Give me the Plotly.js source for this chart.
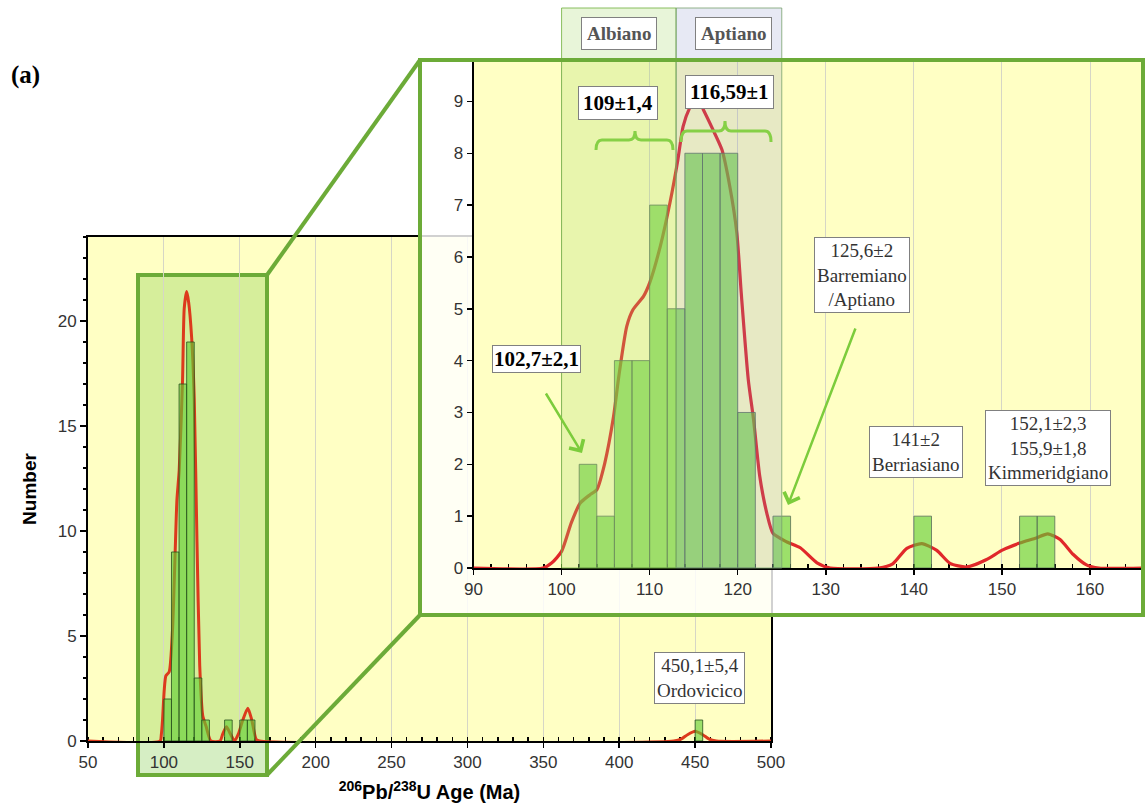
<!DOCTYPE html>
<html><head><meta charset="utf-8">
<script src="https://cdn.plot.ly/plotly-3.0.1.min.js"></script>
<style>html,body{margin:0;padding:0;background:#fff}#chart{width:1145px;height:810px}</style>
</head><body><div id="chart"></div>
<script>
// ---------------- data ----------------
const mainBinStart = [100,105,110,115,120,125,140,150,155,450];
const mainCounts   = [2,9,17,19,3,1,1,1,1,1];
const mainBinWidth = 5;
const mainKdeAge = [50,97.5,98.3,99.1,100.2,101.3,103.5,105.7,107.3,108.6,110.1,112.3,113.4,115.0,116.3,118.3,120.0,121.8,123.6,125.6,127.8,131,137,138.8,141.2,143.8,146.5,149.1,152,155.3,157.9,160.8,163,436,441,445,450,455,459,464,500];
const mainKdeNum = [0,0,0.3,1.0,2.4,3.1,3.3,5.3,8.7,11.5,12.9,17.2,20.6,21.4,20.9,19.2,16.3,9.5,3.6,1.2,0.7,0,0,0.34,0.68,0.34,0,0.34,1.0,1.56,1.0,0.08,0,0,0.1,0.3,0.46,0.3,0.1,0,0];

const insetBinStart = [102,104,106,108,110,112,114,116,118,120,124,140,152,154];
const insetCounts   = [2,1,4,4,7,5,8,8,8,3,1,1,1,1];
const insetBinWidth = 2;
const insetKdeAge = [90,97.9,98.9,100,101.1,102.1,103.2,104.0,104.9,105.9,106.5,107.4,108.1,109.3,110.0,111.2,112.3,113.2,113.8,114.6,115.3,116.1,117.2,118.2,119.1,119.9,120.4,121.2,121.8,122.5,123.3,124.0,125.5,127.1,129.0,130.5,136,137.6,139.2,140.9,142.6,144.1,146.0,148.2,150.1,152.0,153.9,155.2,156.6,158.1,159.6,161,165.9];
const insetKdeNum = [0,0,0.1,0.32,0.87,1.25,1.41,1.51,2.02,2.92,3.7,4.66,4.98,5.24,5.5,6.2,7.04,7.87,8.52,8.9,9.1,8.84,8.45,8.07,7.36,6.46,5.3,3.63,2.86,1.77,1.06,0.67,0.51,0.39,0.1,0,0,0.08,0.38,0.47,0.34,0.09,0.02,0.16,0.35,0.48,0.58,0.66,0.55,0.26,0.06,0,0];

const mainXTicks  = [50,100,150,200,250,300,350,400,450,500];
const mainYTicks  = [0,5,10,15,20];
const insetXTicks = [90,100,110,120,130,140,150,160];
const insetYTicks = [0,1,2,3,4,5,6,7,8,9];

const stageNames  = ['Albiano','Aptiano'];
const stageBounds = [[100,113],[113,125]];

const ageLabels = [
  {t:'<b>102,7±2,1</b>', x:536, y:359, pad:1},
  {t:'<b>109±1,4</b>', x:618, y:103, pad:4},
  {t:'<b>116,59±1</b>', x:729, y:92, pad:4},
  {t:'125,6±2<br>Barremiano<br>/Aptiano', x:862, y:275, pad:2},
  {t:'141±2<br>Berriasiano', x:916, y:452, pad:2},
  {t:'152,1±2,3<br>155,9±1,8<br>Kimmeridgiano', x:1048, y:448, pad:2},
  {t:'450,1±5,4<br>Ordovicico', x:699, y:678, pad:2}
];

// ---------------- layout helpers ----------------
const W = 1145, H = 810;
const px = x => x / W;
const py = y => 1 - y / H;
const SANS = 'Liberation Sans, Arial, sans-serif';
const SERIF = 'Liberation Serif, Times New Roman, serif';
const YELLOW = '#ffffc4';
const FRAME = '#6cab38';

const mainX = [88, 771], mainY = [741, 237];
const insX = [473.5, 1142], insY = [568, 62];
const frX = [420, 1143], frY = [615, 60];
const zoomX = [138, 267], zoomY = [775, 275];

const xMainRange = [50, 500], yMainRange = [0, 24];
const xInsRange = [90, 165.9], yInsRange = [0, 9.76];

const traces = [
  {type:'scatter', mode:'lines', x:mainKdeAge, y:mainKdeNum, xaxis:'x', yaxis:'y',
   line:{color:'#dc3a1c', width:3, shape:'spline', smoothing:0.6}, hoverinfo:'skip', showlegend:false},
  {type:'bar', x:mainBinStart, y:mainCounts, width:mainBinWidth, offset:0, xaxis:'x', yaxis:'y4',
   marker:{color:'rgba(95,205,50,0.62)', line:{color:'rgba(40,80,30,0.8)', width:1}}, hoverinfo:'skip', showlegend:false},
  {type:'scatter', mode:'lines', x:[], y:[], xaxis:'x2', yaxis:'y2', hoverinfo:'skip', showlegend:false},
  {type:'scatter', mode:'lines', x:insetKdeAge, y:insetKdeNum, xaxis:'x3', yaxis:'y3',
   line:{color:'#e0282a', width:3.2, shape:'spline', smoothing:0.6}, hoverinfo:'skip', showlegend:false},
  {type:'bar', x:insetBinStart, y:insetCounts, width:insetBinWidth, offset:0, xaxis:'x3', yaxis:'y5',
   marker:{color:'rgba(95,205,50,0.62)', line:{color:'rgba(90,110,90,0.8)', width:1}}, hoverinfo:'skip', showlegend:false}
];

const tickFont = {family:SANS, size:17, color:'#333'};

function brace(x0, x1, xm, yl, ye, yt) {
  const r = 6;
  const P = (x, y) => px(x).toFixed(5) + ',' + py(y).toFixed(5);
  return 'M' + P(x0, ye) + ' Q' + P(x0, yl) + ' ' + P(x0 + r, yl) +
         ' L' + P(xm - r, yl) + ' Q' + P(xm, yl) + ' ' + P(xm, yt) +
         ' Q' + P(xm, yl) + ' ' + P(xm + r, yl) +
         ' L' + P(x1 - r, yl) + ' Q' + P(x1, yl) + ' ' + P(x1, ye);
}

const shapes = [
  {type:'rect', xref:'paper', yref:'paper', x0:px(mainX[0]), x1:px(mainX[1]), y0:py(mainY[0]), y1:py(mainY[1]),
   fillcolor:YELLOW, line:{width:0}, layer:'below'},
  {type:'rect', xref:'paper', yref:'paper', x0:px(zoomX[0]), x1:px(zoomX[1]), y0:py(zoomY[0]), y1:py(zoomY[1]),
   fillcolor:'rgba(120,200,60,0.30)', line:{color:FRAME, width:4}, layer:'below'},
  {type:'rect', xref:'x2', yref:'y2', x0:0, x1:1, y0:0, y1:1,
   fillcolor:'rgba(255,255,255,0.82)', line:{width:0}, layer:'below'},
  {type:'rect', xref:'x3', yref:'y3', x0:xInsRange[0], x1:xInsRange[1], y0:yInsRange[0], y1:yInsRange[1],
   fillcolor:YELLOW, line:{width:0}, layer:'below'},
  {type:'rect', xref:'x3', yref:'paper', x0:stageBounds[0][0], x1:stageBounds[0][1], y0:py(568), y1:py(8),
   fillcolor:'rgba(165,215,110,0.26)', line:{color:'rgba(110,175,60,0.8)', width:1}, layer:'above'},
  {type:'rect', xref:'x3', yref:'paper', x0:stageBounds[1][0], x1:stageBounds[1][1], y0:py(568), y1:py(8),
   fillcolor:'rgba(135,145,200,0.2)', line:{color:'rgba(120,160,110,0.8)', width:1}, layer:'above'},
  {type:'rect', xref:'paper', yref:'paper', x0:px(frX[0]), x1:px(frX[1]), y0:py(frY[0]), y1:py(frY[1]),
   fillcolor:'rgba(0,0,0,0)', line:{color:FRAME, width:4}, layer:'above'},
  {type:'line', xref:'paper', yref:'paper', x0:px(zoomX[1]), y0:py(zoomY[1]), x1:px(frX[0]), y1:py(frY[1]),
   line:{color:FRAME, width:4}, layer:'above'},
  {type:'line', xref:'paper', yref:'paper', x0:px(zoomX[1]), y0:py(zoomY[0]), x1:px(frX[0]), y1:py(frY[0]),
   line:{color:FRAME, width:4}, layer:'above'},
  {type:'path', xref:'paper', yref:'paper', path:brace(596, 673, 635, 140, 150, 131),
   line:{color:'#86d046', width:3}, layer:'above'},
  {type:'path', xref:'paper', yref:'paper', path:brace(681, 771, 725, 131, 142, 121),
   line:{color:'#86d046', width:3}, layer:'above'}
];

const annotations = [
  {xref:'paper', yref:'paper', x:px(25), y:py(75), xanchor:'center', yanchor:'middle', text:'<b>(a)</b>', showarrow:false,
   font:{family:SERIF, size:25, color:'#000'}},
];
stageNames.forEach((n, i) => {
  annotations.push({xref:'paper', yref:'paper', x:px([619, 733][i]), y:py(33), xanchor:'center', yanchor:'middle',
    text:'<b>' + n + '</b>', showarrow:false, font:{family:SERIF, size:19, color:'#555'}, bgcolor:'#fff',
    bordercolor:'#808080', borderwidth:1, borderpad:5});
});
ageLabels.forEach(a => {
  const bold = a.t.indexOf('<b>') === 0;
  annotations.push({xref:'paper', yref:'paper', x:px(a.x), y:py(a.y), xanchor:'center', yanchor:'middle',
    text:a.t, showarrow:false,
    font:{family:SERIF, size:bold ? 21 : 19, color:bold ? '#000' : '#333'}, bgcolor:'#fff',
    bordercolor:'#808080', borderwidth:1, borderpad:a.pad});
});
annotations.push({xref:'paper', yref:'paper', x:px(582), y:py(453), ax:-37, ay:-61, text:'',
  showarrow:true, arrowhead:4, arrowsize:1.3, arrowwidth:2.5, arrowcolor:'#7ccc3c'});
annotations.push({xref:'paper', yref:'paper', x:px(788), y:py(505), ax:68, ay:-178, text:'',
  showarrow:true, arrowhead:4, arrowsize:1.3, arrowwidth:2.5, arrowcolor:'#7ccc3c'});

const layout = {
  width:W, height:H, margin:{l:0, r:0, t:0, b:0},
  paper_bgcolor:'#ffffff', plot_bgcolor:'rgba(0,0,0,0)',
  showlegend:false, hovermode:false, bargap:0,
  xaxis:{domain:[px(mainX[0]), px(mainX[1])], range:xMainRange, anchor:'y',
    tickmode:'linear', tick0:mainXTicks[0], dtick:mainXTicks[1]-mainXTicks[0],
    showline:true, linecolor:'#000', linewidth:2, mirror:true,
    ticks:'outside', ticklen:5, tickcolor:'#000', tickwidth:1.5,
    minor:{dtick:10, ticks:'inside', ticklen:4, tickcolor:'#000', showgrid:false},
    showgrid:true, gridcolor:'#d6d6c6', gridwidth:1, zeroline:false,
    tickfont:tickFont, layer:'below traces', fixedrange:true,
    title:{text:'<b><sup>206</sup>Pb/<sup>238</sup>U Age (Ma)</b>', font:{family:SANS, size:20, color:'#000'}, standoff:14}},
  yaxis:{domain:[py(mainY[0]), py(mainY[1])], range:yMainRange, anchor:'x',
    tickmode:'linear', tick0:mainYTicks[0], dtick:mainYTicks[1]-mainYTicks[0],
    showline:true, linecolor:'#000', linewidth:2, mirror:true,
    ticks:'outside', ticklen:6, tickcolor:'#000', tickwidth:1.5,
    minor:{dtick:1, ticks:'outside', ticklen:3, tickcolor:'#000', showgrid:false},
    showgrid:false, zeroline:false, tickfont:tickFont, layer:'below traces', fixedrange:true,
    title:{text:'<b>Number</b>', font:{family:SANS, size:19, color:'#000'}, standoff:16}},
  yaxis4:{overlaying:'y', anchor:'x', range:yMainRange, visible:false, fixedrange:true},
  xaxis2:{domain:[px(frX[0]), px(frX[1])], range:[0,1], anchor:'y2', visible:false, fixedrange:true},
  yaxis2:{domain:[py(frY[0]), py(frY[1])], range:[0,1], anchor:'x2', visible:false, fixedrange:true},
  xaxis3:{domain:[px(insX[0]), px(insX[1])], range:xInsRange, anchor:'y3',
    tickmode:'linear', tick0:insetXTicks[0], dtick:insetXTicks[1]-insetXTicks[0],
    showline:true, linecolor:'#000', linewidth:2, mirror:false,
    ticks:'outside', ticklen:5, tickcolor:'#000', tickwidth:1.5,
    minor:{dtick:2, ticks:'inside', ticklen:4, tickcolor:'#000', showgrid:false},
    showgrid:true, gridcolor:'#d6d6c6', gridwidth:1, zeroline:false,
    tickfont:{family:SANS, size:17, color:'#333'}, layer:'below traces', fixedrange:true},
  yaxis3:{domain:[py(insY[0]), py(insY[1])], range:yInsRange, anchor:'x3',
    tickmode:'linear', tick0:insetYTicks[0], dtick:insetYTicks[1]-insetYTicks[0],
    showline:true, linecolor:'#000', linewidth:2, mirror:false,
    ticks:'outside', ticklen:5, tickcolor:'#000', tickwidth:1.5,
    showgrid:false, zeroline:false, tickfont:{family:SANS, size:17, color:'#333'},
    layer:'below traces', fixedrange:true},
  yaxis5:{overlaying:'y3', anchor:'x3', range:yInsRange, visible:false, fixedrange:true},
  shapes:shapes,
  annotations:annotations
};

Plotly.newPlot('chart', traces, layout, {staticPlot:true, displayModeBar:false});
</script>
</body></html>
